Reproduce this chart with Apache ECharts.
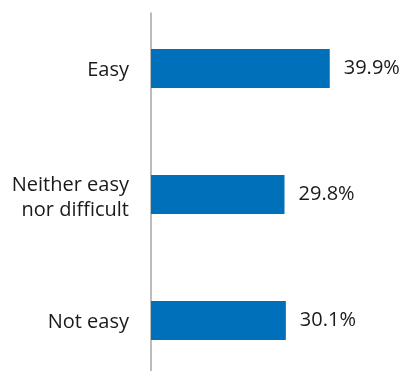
<!DOCTYPE html>
<html><head><meta charset="utf-8">
<script src="https://cdn.jsdelivr.net/npm/echarts@6/dist/echarts.min.js"></script>
<style>html,body{margin:0;padding:0;background:#fff}#c{width:404px;height:371px}</style>
</head><body><div id="c"></div>
<script>
var categories = ['Easy', 'Neither easy\nnor difficult', 'Not easy'];
var values = [39.9, 29.8, 30.1];
var chart = echarts.init(document.getElementById('c'));
var font = '"Open Sans", sans-serif';
chart.setOption({
  animation: false,
  grid: [
    {left: 151, top: 5.5, width: 224, height: 378, outerBoundsMode: 'none'},
    {left: 151, top: 13, width: 224, bottom: 0, outerBoundsMode: 'none'}
  ],
  xAxis: [
    {type: 'value', min: 0, max: 50, show: false, gridIndex: 0},
    {type: 'value', min: 0, max: 50, show: false, gridIndex: 1}
  ],
  yAxis: [
    {type: 'category', data: categories, inverse: true, gridIndex: 0,
     axisLine: {show: false}, axisTick: {show: false}, splitLine: {show: false},
     axisLabel: {margin: 22, fontSize: 20, color: '#1a1a1a', fontFamily: font, lineHeight: 25, align: 'right',
       formatter: function (v) {
         return v.indexOf('\n') >= 0 ? '{m|' + v.split('\n').join('}\n{m|') + '}' : '{s|' + v + '}';
       },
       rich: {
         s: {fontSize: 20, lineHeight: 25, fontFamily: font, color: '#1a1a1a', padding: [3, 0, 0, 0]},
         m: {fontSize: 20, lineHeight: 25, fontFamily: font, color: '#1a1a1a', padding: [7, 0, 0, 0]}
       }},
    },
    {type: 'value', gridIndex: 1, min: 0, max: 1,
     axisLine: {show: true, onZero: false, lineStyle: {color: '#a6a6a6', width: 1.5}},
     axisTick: {show: false}, axisLabel: {show: false}, splitLine: {show: false}}
  ],
  series: [{
    type: 'bar', data: values, barWidth: 39, xAxisIndex: 0, yAxisIndex: 0,
    itemStyle: {color: '#0070BA'},
    label: {show: true, position: 'right', distance: 14, formatter: function(p){return p.value.toFixed(1) + '%';},
            fontSize: 20, color: '#1a1a1a', fontFamily: font}
  }]
});
</script></body></html>
